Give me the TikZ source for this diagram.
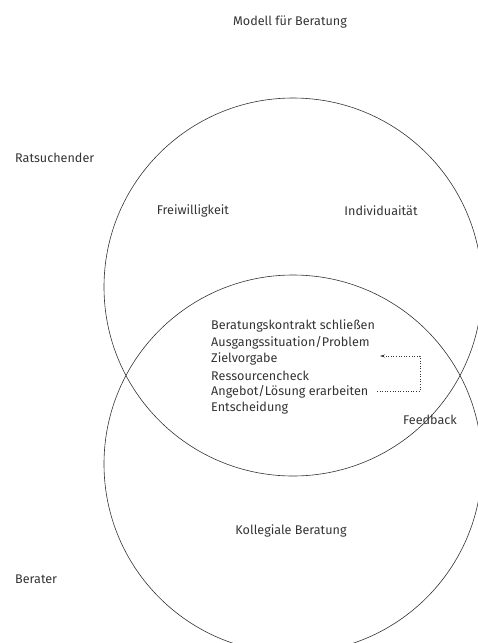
\documentclass[tikz,border=0pt]{standalone}
\usepackage{fontspec}
\setmainfont{Fira Sans}
\usetikzlibrary{arrows.meta}
\definecolor{inkgray}{HTML}{333333}

\begin{document}
\begin{tikzpicture}[
    x=1pt,
    y=-1pt,
    label/.style={
        text=inkgray,
        font=\fontsize{12.6}{14}\selectfont,
        inner sep=0pt
    },
    item/.style={
        label,
        anchor=west
    },
    ring/.style={
        circle,
        draw=inkgray,
        line width=0.6pt,
        minimum size=378pt,
        inner sep=0pt
    }
]
    \useasboundingbox (0,0) rectangle (477,643);

    % --- Circles ---
    \node[ring] (top) at (293,287) {};
    \node[ring] (bottom) at (293,464) {};

    % --- Titles ---
    \node[label] (title) at (290,22) {Modell für Beratung};
    \node[item] (ratsuchender) at (15,158) {Ratsuchender};
    \node[item] (berater) at (15,579) {Berater};

    % --- Upper circle ---
    \node[label] (freiwillig) at (193,211) {Freiwilligkeit};
    \node[label] (individual) at (381,211) {Individuaität};

    % --- Overlap ---
    \node[item] (kontrakt) at (211,326) {Beratungskontrakt schließen};
    \node[item] (ausgang) at (211,343) {Ausgangssituation/Problem};
    \node[item] (ziel) at (211,359) {Zielvorgabe};
    \node[item] (ressourcen) at (211,376) {Ressourcencheck};
    \node[item] (angebot) at (211,392) {Angebot/Lösung erarbeiten};
    \node[item] (entscheidung) at (211,408) {Entscheidung};
    \node[label] (feedback) at (430,420) {Feedback};

    % Feedback loop
    \coordinate (fbstart) at (377,391);
    \coordinate (fbend) at (380,356);
    \draw[dotted, inkgray, line width=0.6pt, -{Stealth[length=5pt,width=3pt]}]
        (fbstart) -- ++(43,0) |- (fbend);

    % --- Lower circle ---
    \node[label] (kollegial) at (291,531) {Kollegiale Beratung};
\end{tikzpicture}
\end{document}
